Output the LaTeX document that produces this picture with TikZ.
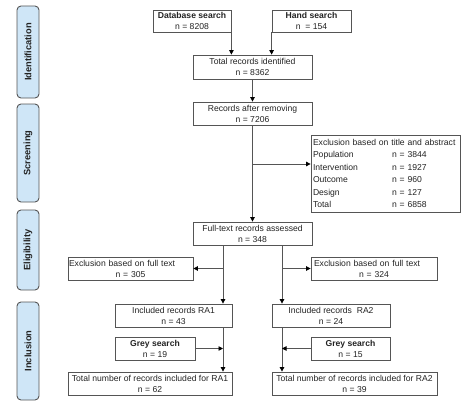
\documentclass[tikz,border=0pt]{standalone}
\usepackage{fontspec}
\setmainfont{Liberation Sans}
\usetikzlibrary{arrows.meta,calc}
\definecolor{barfill}{RGB}{207,230,247}
\definecolor{edge}{RGB}{85,85,85}
\definecolor{txt}{RGB}{35,35,35}
\begin{document}
\begin{tikzpicture}[x=1pt,y=-1pt,
  box/.style={draw=edge, line width=0.8pt, inner sep=0pt, align=center, text=txt,
    font=\fontsize{8.6}{11}\selectfont},
  bar/.style={draw=edge, line width=0.9pt, fill=barfill, rounded corners=4pt, rotate=90,
    inner sep=0pt, minimum height=22pt, text=txt, font=\fontsize{9.3}{11}\selectfont\bfseries},
  arr/.style={draw=edge, line width=0.8pt, -{Triangle[length=4.5pt,width=4.5pt,color=black]}}]
\useasboundingbox (0,0) rectangle (474,404);
% phase bars
\node[bar, minimum width=92pt] (pid) at (28,52) {Identification};
\node[bar, minimum width=98pt] (psc) at (28,153) {Screening};
\node[bar, minimum width=80pt] (pel) at (28,250) {Eligibility};
\node[bar, minimum width=98pt] (pin) at (28,351) {Inclusion};
% boxes
\node[box, minimum width=78pt, minimum height=22pt] (db) at (192,21) {\textbf{Database search}\\n = 8208};
\node[box, minimum width=79pt, minimum height=22pt] (hand) at (311.5,21) {\textbf{Hand search}\\n~ = 154};
\node[box, minimum width=119pt, minimum height=24pt] (total) at (252.5,67) {Total records identified\\n = 8362};
\node[box, minimum width=119pt, minimum height=23pt] (rec) at (252.5,113.5) {Records after removing\\n = 7206};
\node[box, minimum width=149pt, minimum height=77pt, text width=145pt, align=left,
      font=\fontsize{8.6}{12.4}\selectfont] (excl) at (385.5,173.5) {%
  Exclusion based on title and abstract\\
  \makebox[79pt][l]{Population}n = 3844\\
  \makebox[79pt][l]{Intervention}n = 1927\\
  \makebox[79pt][l]{Outcome}n = 960\\
  \makebox[79pt][l]{Design}n = 127\\
  \makebox[79pt][l]{Total}n = 6858};
\node[box, minimum width=119pt, minimum height=23pt] (full) at (252.5,233.5) {Full-text records assessed\\n = 348};
\node[box, minimum width=125pt, minimum height=23pt, text width=123pt, align=left] (exL) at (130.5,268.5) {Exclusion based on full text\\\hspace*{\fill}n = 305\hspace*{\fill}};
\node[box, minimum width=126pt, minimum height=23pt, text width=120pt, align=left] (exR) at (374,268.5) {Exclusion based on full text\\\hspace*{\fill}n = 324\hspace*{\fill}};
\node[box, minimum width=117pt, minimum height=23pt] (ra1) at (173.5,315.5) {Included records RA1\\n = 43};
\node[box, minimum width=118pt, minimum height=23pt] (ra2) at (331,315.5) {Included records~ RA2\\n = 24};
\node[box, minimum width=80pt, minimum height=23pt] (greyL) at (155,348.5) {\textbf{Grey search}\\n = 19};
\node[box, minimum width=79pt, minimum height=23pt] (greyR) at (350.5,348.5) {\textbf{Grey search}\\n = 15};
\node[box, minimum width=164pt, minimum height=23pt] (totL) at (150,383.5) {Total number of records included for RA1\\n = 62};
\node[box, minimum width=165pt, minimum height=23pt] (totR) at (354.5,383.5) {Total number of records included for RA2\\n = 39};
% junction coordinates
\coordinate (b1) at (252.5,164);
\coordinate (jL) at (223,245);
\coordinate (jR) at (282,245);
% connectors
\draw[arr] (db.south east) -- (db.south east |- total.north);
\draw[arr] (hand.south west) -- (hand.south west |- total.north);
\draw[arr] (total.south) -- (rec.north);
\draw[arr] (rec.south) -- (full.north);
\draw[arr] (b1) -- (b1 -| excl.west);
\draw[arr] (jL) -- (jL |- ra1.north);
\draw[arr] (jL |- exL.east) -- (exL.east);
\draw[arr] (jR) -- (jR |- ra2.north);
\draw[arr] (jR |- exR.west) -- (exR.west);
\draw[arr] (ra1.south -| jL) -- (totL.north -| jL);
\draw[arr] (greyL.east) -- (greyL.east -| jL);
\draw[arr] (ra2.south -| jR) -- (totR.north -| jR);
\draw[arr] (greyR.west) -- (greyR.west -| jR);
\end{tikzpicture}
\end{document}
